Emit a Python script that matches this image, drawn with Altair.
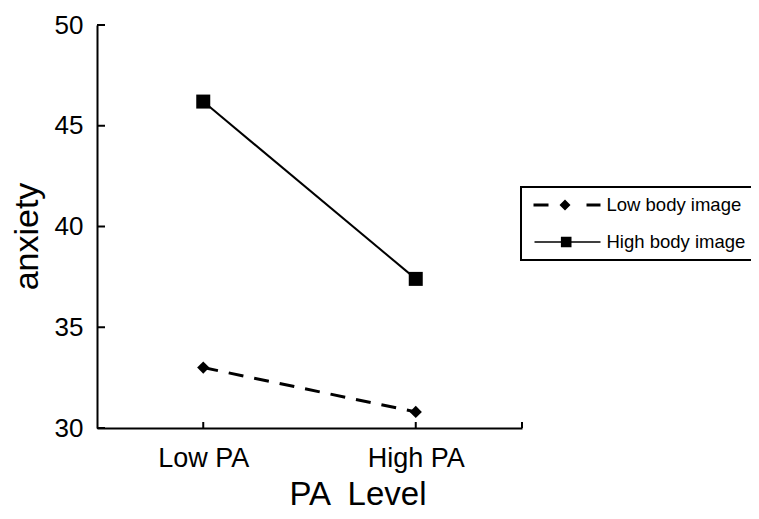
import altair as alt
import pandas as pd

# ---- data ----
pa_levels = ["Low PA", "High PA"]
series_names = ["Low body image", "High body image"]
low_body = [33.0, 30.8]
high_body = [46.2, 37.4]
y_ticks = [30, 35, 40, 45, 50]

rows = []
for lvl, v in zip(pa_levels, low_body):
    rows.append({"level": lvl, "value": v, "series": series_names[0]})
for lvl, v in zip(pa_levels, high_body):
    rows.append({"level": lvl, "value": v, "series": series_names[1]})
df = pd.DataFrame(rows)
ticks_df = pd.DataFrame({"value": y_ticks})
cats_df = pd.DataFrame({"level": pa_levels})
legend_df = pd.DataFrame({"series": series_names})

FONT = "Liberation Sans"
W, H = 425, 403

xscale = alt.Scale(type="point", domain=pa_levels, padding=0.5)
yscale = alt.Scale(domain=[30, 50], nice=False, zero=False)

x_enc = alt.X(
    "level:N", scale=xscale, sort=pa_levels,
    axis=alt.Axis(
        title="PA \u00a0Level", titleFont=FONT, titleFontSize=33, titleFontWeight="normal",
        titleColor="black", titleX=260.5, titleY=76, titleBaseline="alphabetic",
        titleAlign="center", labelFont=FONT, labelFontSize=27, labelColor="black",
        labelPadding=17, labelAngle=0, ticks=False, tickSize=0, domainColor="black",
        domainWidth=2, grid=False,
    ),
)
y_enc = alt.Y(
    "value:Q", scale=yscale,
    axis=alt.Axis(
        values=y_ticks, title="anxiety", titleFont=FONT, titleFontSize=34,
        titleFontWeight="normal", titleColor="black", titleAngle=270,
        titleBaseline="alphabetic", titleAlign="center", titleX=-60, titleY=211,
        labelFont=FONT, labelFontSize=26, labelColor="black", labelPadding=14,
        ticks=False, tickSize=0, domainColor="black", domainWidth=2, grid=False,
    ),
)

base = alt.Chart(df)

low_line = base.transform_filter(alt.datum.series == series_names[0]).mark_line(
    color="black", strokeWidth=3, strokeDash=[15, 11]
).encode(x=x_enc, y=y_enc)
high_line = base.transform_filter(alt.datum.series == series_names[1]).mark_line(
    color="black", strokeWidth=2
).encode(x=x_enc, y=y_enc)
low_pts = base.transform_filter(alt.datum.series == series_names[0]).mark_point(
    shape="diamond", filled=True, size=150, color="black", opacity=1
).encode(x=x_enc, y=y_enc)
high_pts = base.transform_filter(alt.datum.series == series_names[1]).mark_point(
    shape="square", filled=True, size=196, color="black", opacity=1
).encode(x=x_enc, y=y_enc)

# inward tick marks
ytick_marks = alt.Chart(ticks_df).mark_rule(color="black", strokeWidth=2).encode(
    y=y_enc, x=alt.value(0), x2=alt.value(8)
)
xtick_marks = alt.Chart(cats_df).mark_rule(color="black", strokeWidth=2).encode(
    x=x_enc, y=alt.value(H), y2=alt.value(H - 6)
)
end_tick = alt.Chart(cats_df).mark_rule(color="black", strokeWidth=2).encode(
    x=alt.value(W), y=alt.value(H), y2=alt.value(H - 6)
)

# legend symbols: line + marker glyphs (unit = 10px, centre 10px from entry left)
path_low = ("M-0.55,-0.15H0.95V0.15H-0.55Z "
            "M2.6,-0.55L3.15,0L2.6,0.55L2.05,0Z "
            "M4.75,-0.15H6.15V0.15H4.75Z")
path_high = ("M-0.45,-0.08H6.15V0.08H-0.45Z "
             "M2.19,-0.53H3.25V0.53H2.19Z")

legend_layer = alt.Chart(legend_df).transform_filter("false").mark_point(
    filled=True, color="black"
).encode(
    shape=alt.Shape(
        "series:N",
        scale=alt.Scale(domain=series_names, range=[path_low, path_high]),
        legend=alt.Legend(
            title=None, orient="none", legendX=424, legendY=162,
            padding=8, rowPadding=17, labelFont=FONT, labelFontSize=18.5,
            labelColor="black", labelOffset=57.5, symbolSize=400,
            symbolFillColor="black", symbolStrokeColor="black",
            symbolStrokeWidth=0, symbolOpacity=1, strokeColor="black",
            fillColor="white", labelLimit=300,
        ),
    )
)

chart = alt.layer(
    low_line, high_line, low_pts, high_pts, ytick_marks, xtick_marks, end_tick, legend_layer
).properties(
    width=W, height=H,
    autosize=alt.AutoSizeParams(type="none"),
    padding={"left": 89, "top": 17, "right": 229, "bottom": 83},
).configure_view(strokeWidth=0).configure_legend(strokeWidth=2)

chart.save("out.html", embed_options={"renderer": "svg", "actions": False})
